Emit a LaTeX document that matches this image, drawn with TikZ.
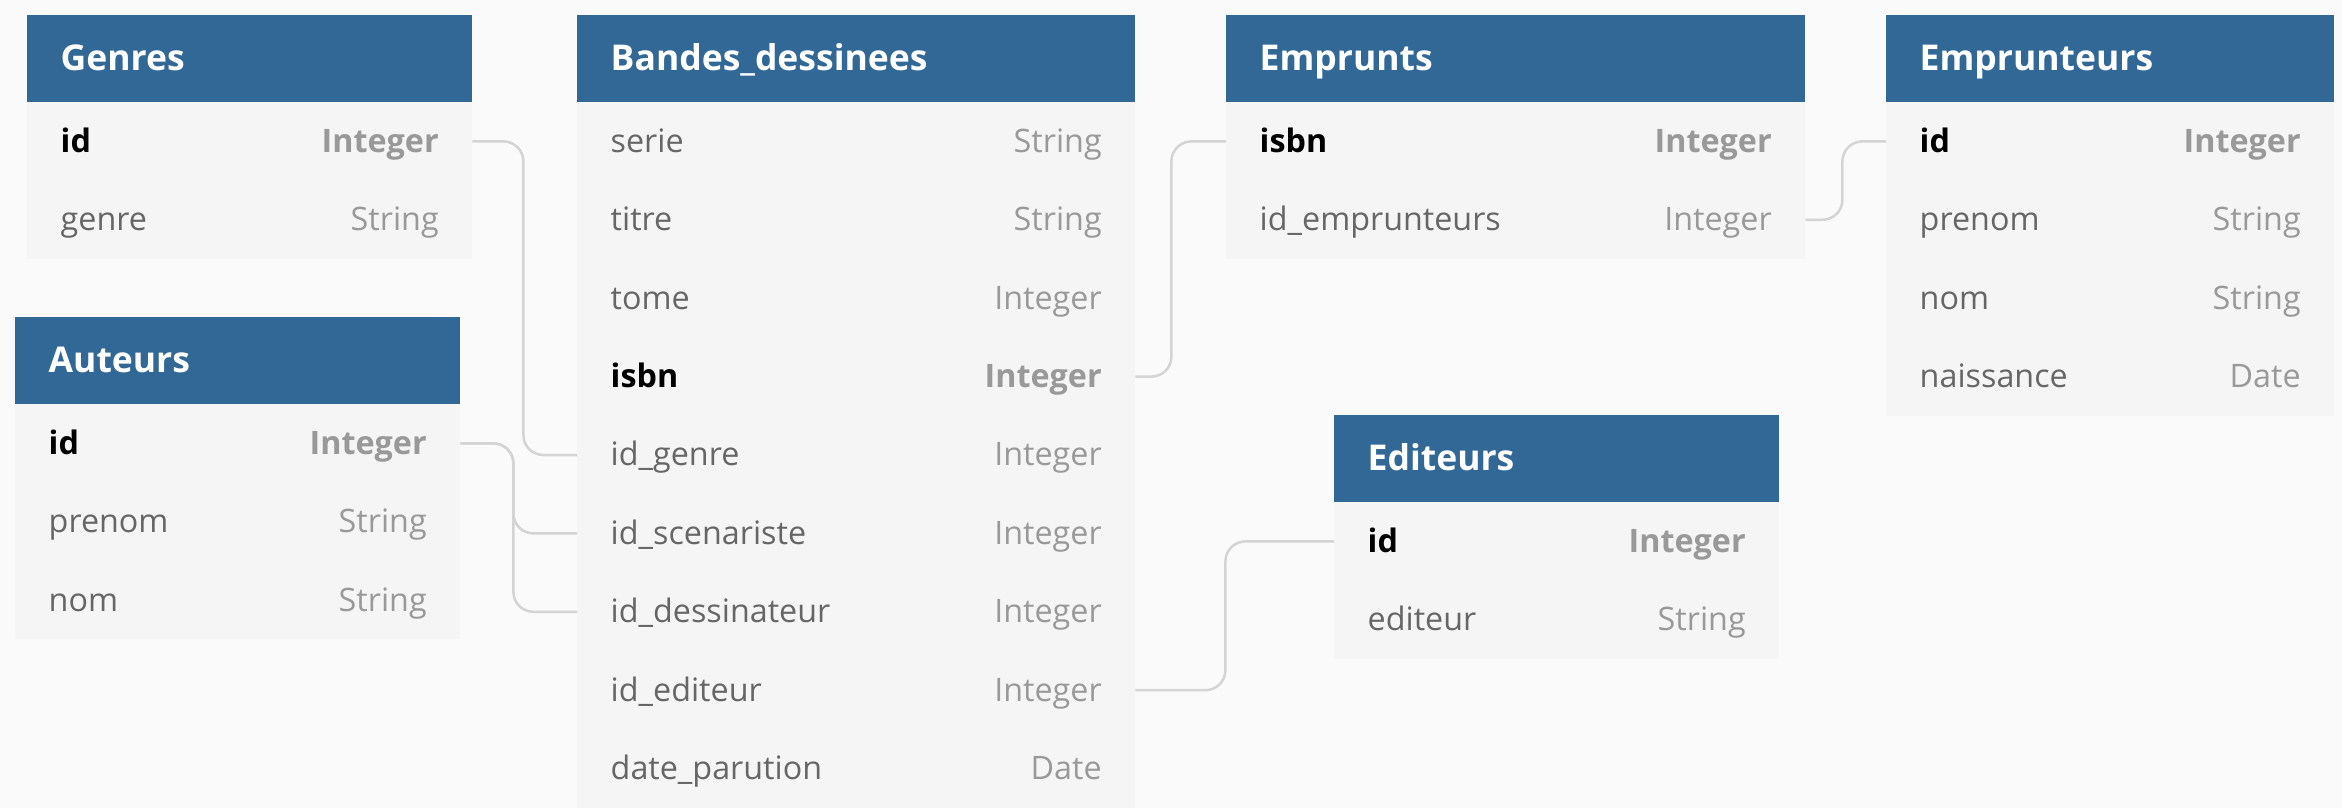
\documentclass[tikz,border=0pt]{standalone}
\usepackage{fontspec}
\setmainfont{Open Sans}
\usepackage{xcolor}
\definecolor{headblue}{HTML}{326896}
\definecolor{rowgray}{HTML}{F5F5F5}
\definecolor{bggray}{HTML}{FAFAFA}
\definecolor{namegray}{HTML}{666666}
\definecolor{typegray}{HTML}{999999}
\definecolor{linkgray}{HTML}{D4D4D4}
\newcommand{\fld}[2]{\textcolor{namegray}{#1}\hfill\textcolor{typegray}{#2}}
\newcommand{\pk}[2]{\textbf{#1\hfill\textcolor{typegray}{#2}}}

\begin{document}
\begin{tikzpicture}[x=1pt,y=-1pt,
    head/.style={anchor=north west,fill=headblue,text=white,inner xsep=33.5pt,inner ysep=0pt,
        minimum height=87pt,text height=32pt,text depth=9pt,font=\fontsize{35.5}{40}\selectfont\bfseries},
    row/.style={anchor=north west,fill=rowgray,inner xsep=33.5pt,inner ysep=0pt,
        minimum height=78.4pt,text height=29.6pt,text depth=8pt,font=\fontsize{32.3}{36}\selectfont},
    link/.style={draw=linkgray,line width=2.5pt,rounded corners=20pt}]
    \fill[bggray] (0,0) rectangle (2342,808);
    \useasboundingbox (0,0) rectangle (2342,808);

    \node[head,text width=378pt] (genres) at (27,15) {Genres};
    \foreach \fr [count=\i] in {\pk{id}{Integer},\fld{genre}{String}}{
        \node[row,text width=378pt] (genres\i) at (27,{102+(\i-1)*78.4}) {\fr};
    }

    \node[head,text width=378pt] (auteurs) at (15,317) {Auteurs};
    \foreach \fr [count=\i] in {\pk{id}{Integer},\fld{prenom}{String},\fld{nom}{String}}{
        \node[row,text width=378pt] (auteurs\i) at (15,{404+(\i-1)*78.4}) {\fr};
    }

    \node[head,text width=491pt] (bd) at (577,15) {Bandes\_dessinees};
    \foreach \fr [count=\i] in {\fld{serie}{String},\fld{titre}{String},\fld{tome}{Integer},
        \pk{isbn}{Integer},\fld{id\_genre}{Integer},\fld{id\_scenariste}{Integer},
        \fld{id\_dessinateur}{Integer},\fld{id\_editeur}{Integer},\fld{date\_parution}{Date}}{
        \node[row,text width=491pt] (bd\i) at (577,{102+(\i-1)*78.4}) {\fr};
    }

    \node[head,text width=512pt] (emprunts) at (1226,15) {Emprunts};
    \foreach \fr [count=\i] in {\pk{isbn}{Integer},\fld{id\_emprunteurs}{Integer}}{
        \node[row,text width=512pt] (emprunts\i) at (1226,{102+(\i-1)*78.4}) {\fr};
    }

    \node[head,text width=381pt] (emprunteurs) at (1886,15) {Emprunteurs};
    \foreach \fr [count=\i] in {\pk{id}{Integer},\fld{prenom}{String},\fld{nom}{String},
        \fld{naissance}{Date}}{
        \node[row,text width=381pt] (emprunteurs\i) at (1886,{102+(\i-1)*78.4}) {\fr};
    }

    \node[head,text width=378pt] (editeurs) at (1334,415) {Editeurs};
    \foreach \fr [count=\i] in {\pk{id}{Integer},\fld{editeur}{String}}{
        \node[row,text width=378pt] (editeurs\i) at (1334,{502+(\i-1)*78.4}) {\fr};
    }

    \draw[link] (genres1.east) -- ++(51,0) |- (bd5.west);
    \draw[link] (auteurs1.east) -- ++(53,0) |- (bd6.west);
    \draw[link] (auteurs1.east) -- ++(53,0) |- (bd7.west);
    \draw[link] (bd4.east) -- ++(36,0) |- (emprunts1.west);
    \draw[link] (emprunts2.east) -- ++(37,0) |- (emprunteurs1.west);
    \draw[link] (bd8.east) -- ++(90,0) |- (editeurs1.west);
\end{tikzpicture}
\end{document}
